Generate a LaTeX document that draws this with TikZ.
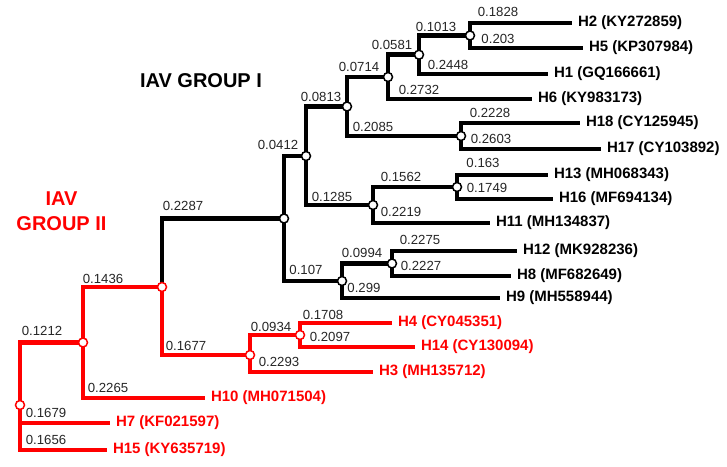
\documentclass[tikz,border=0pt]{standalone}
\usepackage{fontspec}
\setmainfont{Liberation Sans}
\usetikzlibrary{backgrounds}
\definecolor{grpred}{RGB}{255,0,0}

\tikzset{
  br/.style={line width=4.7pt, line join=miter},
  dot/.style={circle, draw, fill=white, line width=1.5pt, inner sep=0pt, minimum size=9pt},
  rdot/.style={dot, draw=grpred},
  len/.style={font=\fontsize{13.2}{15}\selectfont, text=black!85, inner sep=0pt},
  leaf/.style={font=\fontsize{15}{18}\selectfont\bfseries, inner sep=0pt, outer xsep=6pt, anchor=west},
  grp/.style={font=\fontsize{20}{25}\selectfont\bfseries, inner sep=0pt, align=center}
}

\begin{document}
\begin{tikzpicture}[x=1pt, y=-1pt]
\useasboundingbox (0,0) rectangle (727,466);

% inner nodes
\node[dot] (a) at (470,35.5) {};
\node[dot] (b) at (419,54.75) {};
\node[dot] (c) at (388,77) {};
\node[dot] (d) at (461,136) {};
\node[dot] (e) at (347,106.5) {};
\node[dot] (f) at (457,187) {};
\node[dot] (g) at (373,205) {};
\node[dot] (h) at (306,156) {};
\node[dot] (i) at (392,263.5) {};
\node[dot] (j) at (342,281) {};
\node[dot] (k) at (284,218.5) {};
\node[rdot] (l) at (300,335) {};
\node[rdot] (m) at (250,355) {};
\node[rdot] (n) at (162,287) {};
\node[rdot] (o) at (83,342.5) {};
\node[rdot] (root) at (20,405) {};

% leaves
\node[leaf] (h2) at (572,23) {H2 (KY272859)};
\node[leaf] (h5) at (583,48) {H5 (KP307984)};
\node[leaf] (h1) at (548,74) {H1 (GQ166661)};
\node[leaf] (h6) at (532,99) {H6 (KY983173)};
\node[leaf] (h18) at (580,123) {H18 (CY125945)};
\node[leaf] (h17) at (601,149) {H17 (CY103892)};
\node[leaf] (h13) at (548,175) {H13 (MH068343)};
\node[leaf] (h16) at (553,199) {H16 (MF694134)};
\node[leaf] (h11) at (490,223) {H11 (MH134837)};
\node[leaf] (h12) at (517,251) {H12 (MK928236)};
\node[leaf] (h8) at (511,276) {H8 (MF682649)};
\node[leaf] (h9) at (500,298) {H9 (MH558944)};
\node[leaf, text=grpred] (h4) at (392,323) {H4 (CY045351)};
\node[leaf, text=grpred] (h14) at (415,347) {H14 (CY130094)};
\node[leaf, text=grpred] (h3) at (373,372) {H3 (MH135712)};
\node[leaf, text=grpred] (h10) at (205,398) {H10 (MH071504)};
\node[leaf, text=grpred] (h7) at (110,423) {H7 (KF021597)};
\node[leaf, text=grpred] (h15) at (107,450) {H15 (KY635719)};

\begin{scope}[on background layer]
% group I
\draw[br] (a.center) |- (h2.west);
\draw[br] (a.center) |- (h5.west);
\draw[br] (b.center) |- (a.center);
\draw[br] (b.center) |- (h1.west);
\draw[br] (c.center) |- (b.center);
\draw[br] (c.center) |- (h6.west);
\draw[br] (d.center) |- (h18.west);
\draw[br] (d.center) |- (h17.west);
\draw[br] (e.center) |- (c.center);
\draw[br] (e.center) |- (d.center);
\draw[br] (f.center) |- (h13.west);
\draw[br] (f.center) |- (h16.west);
\draw[br] (g.center) |- (f.center);
\draw[br] (g.center) |- (h11.west);
\draw[br] (h.center) |- (e.center);
\draw[br] (h.center) |- (g.center);
\draw[br] (i.center) |- (h12.west);
\draw[br] (i.center) |- (h8.west);
\draw[br] (j.center) |- (i.center);
\draw[br] (j.center) |- (h9.west);
\draw[br] (k.center) |- (h.center);
\draw[br] (k.center) |- (j.center);
\draw[br] (n.center) |- (k.center);
% group II
\draw[br, grpred] (l.center) |- (h4.west);
\draw[br, grpred] (l.center) |- (h14.west);
\draw[br, grpred] (m.center) |- (l.center);
\draw[br, grpred] (m.center) |- (h3.west);
\draw[br, grpred] (n.center) |- (m.center);
\draw[br, grpred] (o.center) |- (n.center);
\draw[br, grpred] (o.center) |- (h10.west);
\draw[br, grpred] (root.center) |- (o.center);
\draw[br, grpred] (root.center) |- (h7.west);
\draw[br, grpred] (root.center) |- (h15.west);
\end{scope}

% branch lengths
\foreach \px/\py/\t [count=\q] in {
  498/12/0.1828, 498/39/0.203, 436/27/0.1013, 448/65/0.2448,
  392/45/0.0581, 419/90/0.2732, 359/67/0.0714, 373/127/0.2085,
  490/113/0.2228, 491/139/0.2603, 321/97/0.0813, 278/145/0.0412,
  332/197/0.1285, 483/163/0.163, 487/188/0.1749, 401/177/0.1562,
  401/212/0.2219, 420/240/0.2275, 421/266/0.2227, 362/253/0.0994,
  364/288/0.299, 306/270/0.107, 183/206/0.2287, 323/315/0.1708,
  330/337/0.2097, 271/327/0.0934, 279/362/0.2293, 186/346/0.1677,
  103/279/0.1436, 108/388/0.2265, 42/331/0.1212, 46/413/0.1679,
  46/440/0.1656}
  \node[len] (w\q) at (\px,\py) {\t};

% group titles
\node[grp] (g1) at (201,81) {IAV GROUP I};
\node[grp, text=grpred] (g2) at (61.5,211.5) {IAV\\GROUP II};

\end{tikzpicture}
\end{document}
